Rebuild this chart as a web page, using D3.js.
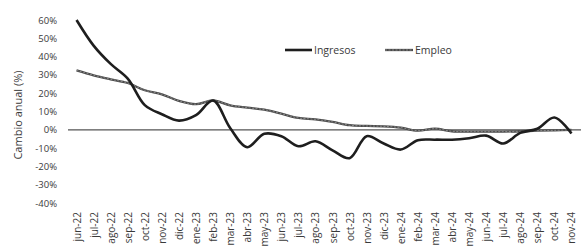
<!DOCTYPE html>
<html><head><meta charset="utf-8">
<script src="https://cdn.jsdelivr.net/npm/d3@7"></script>
<style>
body{margin:0;background:#fff;}
svg{display:block;font-family:"Open Sans","Noto Sans",sans-serif;}
</style></head>
<body>
<svg id="chart" width="581" height="246"></svg>
<script>
const months = ["jun-22","jul-22","ago-22","sep-22","oct-22","nov-22","dic-22","ene-23","feb-23","mar-23","abr-23","may-23","jun-23","jul-23","ago-23","sep-23","oct-23","nov-23","dic-23","ene-24","feb-24","mar-24","abr-24","may-24","jun-24","jul-24","ago-24","sep-24","oct-24","nov-24"];
const ingresos = [60,46,36,28,13.5,8.5,5,8,16,1,-9.5,-2.2,-3.5,-9,-6.3,-11.2,-15.5,-3.5,-7.5,-10.8,-5.7,-5.4,-5.4,-4.6,-3.2,-7.5,-1.7,0.6,6.7,-2];
const empleo = [32.5,29.8,27.6,25.6,21.6,19.4,15.8,14,16,13.4,12.1,11,8.8,6.5,5.7,4.3,2.5,2.1,1.9,1.2,-0.5,0.6,-0.8,-1,-1,-1,-0.8,-0.5,-0.3,0];
const yTicks = [-40,-30,-20,-10,0,10,20,30,40,50,60];
const seriesNames = ["Ingresos","Empleo"];

const svg = d3.select("#chart");
const x = d3.scalePoint().domain(months).range([68,580]).padding(0.5);
const y = d3.scaleLinear().domain([-40,60]).range([203,20]);

// y axis labels
const ya = svg.append("g").attr("transform","translate(57,0)")
  .call(d3.axisLeft(y).tickValues(yTicks).tickSize(0).tickPadding(0).tickFormat(d=>d+"%"));
ya.select(".domain").remove();
ya.selectAll("text").attr("font-size",9.5).attr("fill","#3a3a3a").attr("font-family","'Open Sans',sans-serif");

// x axis labels
const xa = svg.append("g").attr("transform","translate(0,212)")
  .call(d3.axisBottom(x).tickSize(0).tickPadding(0));
xa.select(".domain").remove();
xa.selectAll("text")
  .attr("transform","rotate(-90)")
  .attr("text-anchor","end")
  .attr("x",0).attr("y",0).attr("dy","0.35em")
  .attr("font-size",10).attr("fill","#3a3a3a").attr("font-family","'Open Sans',sans-serif");

// zero line
svg.append("line").attr("x1",68).attr("x2",581).attr("y1",y(0)).attr("y2",y(0))
  .attr("stroke","#555").attr("stroke-width",1.2);

// y title
svg.append("text").attr("transform",`translate(22,${115}) rotate(-90)`)
  .attr("text-anchor","middle").attr("font-size",11).attr("fill","#3a3a3a")
  .text("Cambio anual (%)");

const line = d3.line().x((d,i)=>x(months[i])).y(d=>y(d)).curve(d3.curveCatmullRom.alpha(0.5));

// Empleo
svg.append("path").datum(empleo).attr("d",line).attr("fill","none")
  .attr("stroke","#4a4a4a").attr("stroke-width",2.3);
svg.append("path").datum(empleo).attr("d",line).attr("fill","none")
  .attr("stroke","#9a9a9a").attr("stroke-width",0.8).attr("stroke-dasharray","2,1.5");
// Ingresos
svg.append("path").datum(ingresos).attr("d",line).attr("fill","none")
  .attr("stroke","#1e1e1e").attr("stroke-width",2.6).attr("stroke-linejoin","round");

// legend
const lg = svg.append("g");
lg.append("line").attr("x1",285).attr("x2",312).attr("y1",50).attr("y2",50).attr("stroke","#1e1e1e").attr("stroke-width",2.6);
lg.append("text").attr("x",314).attr("y",50).attr("dy","0.35em").attr("font-size",10.5).attr("fill","#3a3a3a").text(seriesNames[0]);
lg.append("line").attr("x1",385).attr("x2",413).attr("y1",50).attr("y2",50).attr("stroke","#4a4a4a").attr("stroke-width",2.3);
lg.append("line").attr("x1",385).attr("x2",413).attr("y1",50).attr("y2",50).attr("stroke","#9a9a9a").attr("stroke-width",0.8).attr("stroke-dasharray","2,1.5");
lg.append("text").attr("x",415).attr("y",50).attr("dy","0.35em").attr("font-size",10.5).attr("fill","#3a3a3a").text(seriesNames[1]);
</script>
</body></html>
